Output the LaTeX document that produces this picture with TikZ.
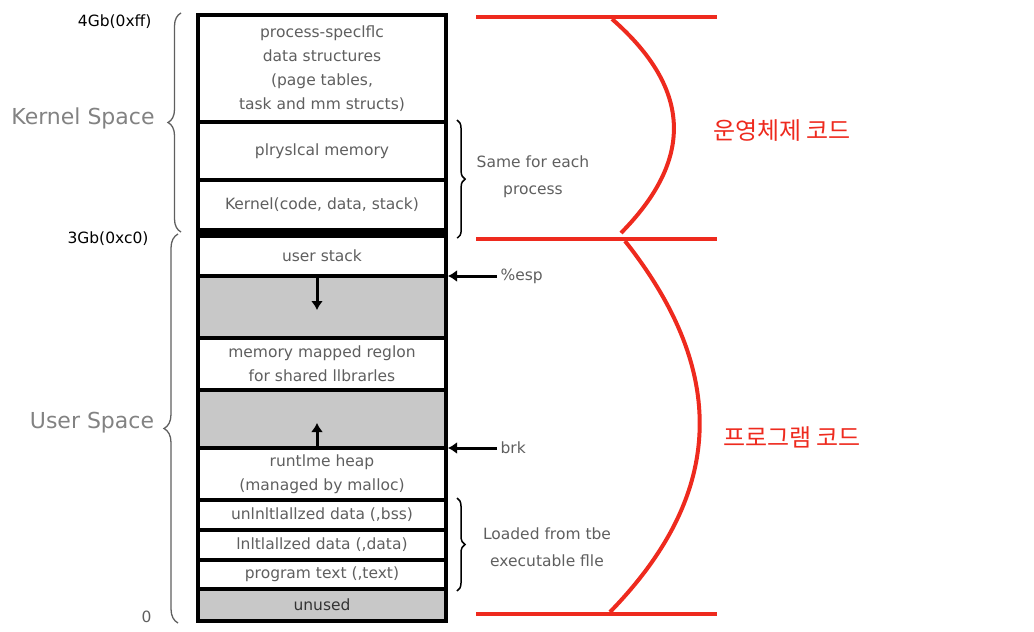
\documentclass[tikz,border=0pt]{standalone}
\usepackage{fontspec}
\setmainfont{DejaVu Sans}
\newfontfamily\krfont{Noto Sans CJK KR}
\usetikzlibrary{arrows.meta,decorations.pathreplacing}

\definecolor{memgray}{RGB}{200,200,200}
\definecolor{labgray}{RGB}{95,95,95}
\definecolor{sidegray}{RGB}{130,130,130}
\definecolor{memred}{RGB}{238,42,30}

\begin{document}
\begin{tikzpicture}[
  x=1pt, y=-1pt,
  region/.style={draw, line width=4pt, fill=white, minimum width=248pt, inner sep=0pt, align=center, text=labgray, font=\fontsize{15.5}{24}\selectfont},
  hole/.style={region, fill=memgray},
  arrow/.style={-{Latex[length=9pt,width=12pt]}, line width=3pt},
  brace/.style={decorate, decoration={brace, amplitude=#1}},
  addr/.style={anchor=east, font=\fontsize{15.5}{18}\selectfont},
  side/.style={text=sidegray, font=\fontsize{22}{24}\selectfont},
  note/.style={align=center, text=labgray, font=\fontsize{15.5}{27}\selectfont},
  redline/.style={draw=memred, line width=4pt},
  code/.style={text=memred, font=\krfont\fontsize{24}{26}\selectfont}
]
\useasboundingbox (0,0) rectangle (1034,632);

% memory layout, top to bottom
\node[region, minimum height=107pt] (proc) at (322,68.5) {process-speclflc\\data structures\\(page tables,\\task and mm structs)};
\node[region, minimum height=58pt] (phys) at (322,151) {plryslcal memory};
\node[region, minimum height=50pt] (kcode) at (322,205) {Kernel(code, data, stack)};
\node[fill=black, minimum width=252pt, minimum height=10pt, inner sep=0pt] (band) at (322,233) {};
\node[region, minimum height=40pt] (ustack) at (322,256) {user stack};
\node[hole, minimum height=62pt] (gap1) at (322,307) {};
\node[region, minimum height=52pt] (mmap) at (322,364) {memory mapped reglon\\for shared llbrarles};
\node[hole, minimum height=58pt] (gap2) at (322,419) {};
\node[region, minimum height=52pt] (heap) at (322,474) {runtlme heap\\(managed by malloc)};
\node[region, minimum height=30pt] (bss) at (322,515) {unlnltlallzed data (,bss)};
\node[region, minimum height=30pt] (data) at (322,545) {lnltlallzed data (,data)};
\node[region, minimum height=29pt] (text) at (322,574.5) {program text (,text)};
\node[hole, minimum height=32pt, text=black!80] (unused) at (322,605) {unused};

\draw[arrow] ([xshift=-5pt]gap1.north) -- ([xshift=-5pt,yshift=-3pt]gap1.center);
\draw[arrow] ([xshift=-5pt]gap2.south) -- ([xshift=-5pt,yshift=-4pt]gap2.center);

% addresses and spaces
\node[addr] (top) at (155,22) {4Gb(0xff)};
\node[addr] (mid) at (152,239) {3Gb(0xc0)};
\node[addr, text=labgray] (zero) at (155,617) {0};
\node[side] (kspace) at (83,118) {Kernel Space};
\node[side] (uspace) at (92,423) {User Space};
\draw[brace=13pt, draw=labgray, line width=1.3pt] ([xshift=-15pt]kcode.south west) -- ([xshift=-15pt]proc.north west);
\draw[brace=14pt, draw=labgray, line width=1.3pt] ([xshift=-18pt]unused.south west) -- ([xshift=-18pt]ustack.north west);

% right notes
\draw[brace=8pt, line width=1.5pt] ([xshift=9pt]phys.north east) -- ([xshift=9pt]band.south east);
\node[note] (same) at (533,177) {Same for each\\process};
\draw[brace=8pt, line width=1.5pt] ([xshift=9pt]bss.north east) -- ([xshift=9pt]text.south east);
\node[note] (loaded) at (547,547) {Loaded from tbe\\executable flle};
\node[anchor=west, text=labgray, font=\fontsize{15.5}{18}\selectfont] (esp) at (497,276) {\%esp};
\node[anchor=west, text=labgray, font=\fontsize{15.5}{18}\selectfont] (brk) at (497,448) {brk};
\draw[arrow] (esp.west) -- (esp.west -| ustack.east);
\draw[arrow] (brk.west) -- (brk.west -| heap.east);

% kernel / program code
\draw[redline] (476,17) -- (717,17);
\draw[redline] (476,239) -- (717,239);
\draw[redline] (476,614) -- (717,614);
\draw[redline] (612,19) .. controls (693,90) and (693,160) .. (621,233);
\draw[redline] (625,241) .. controls (727,370) and (727,492) .. (610,612);
\node[code] (oscode) at (782,131) {운영체제 코드};
\node[code] (progcode) at (792,437) {프로그램 코드};
\end{tikzpicture}
\end{document}
